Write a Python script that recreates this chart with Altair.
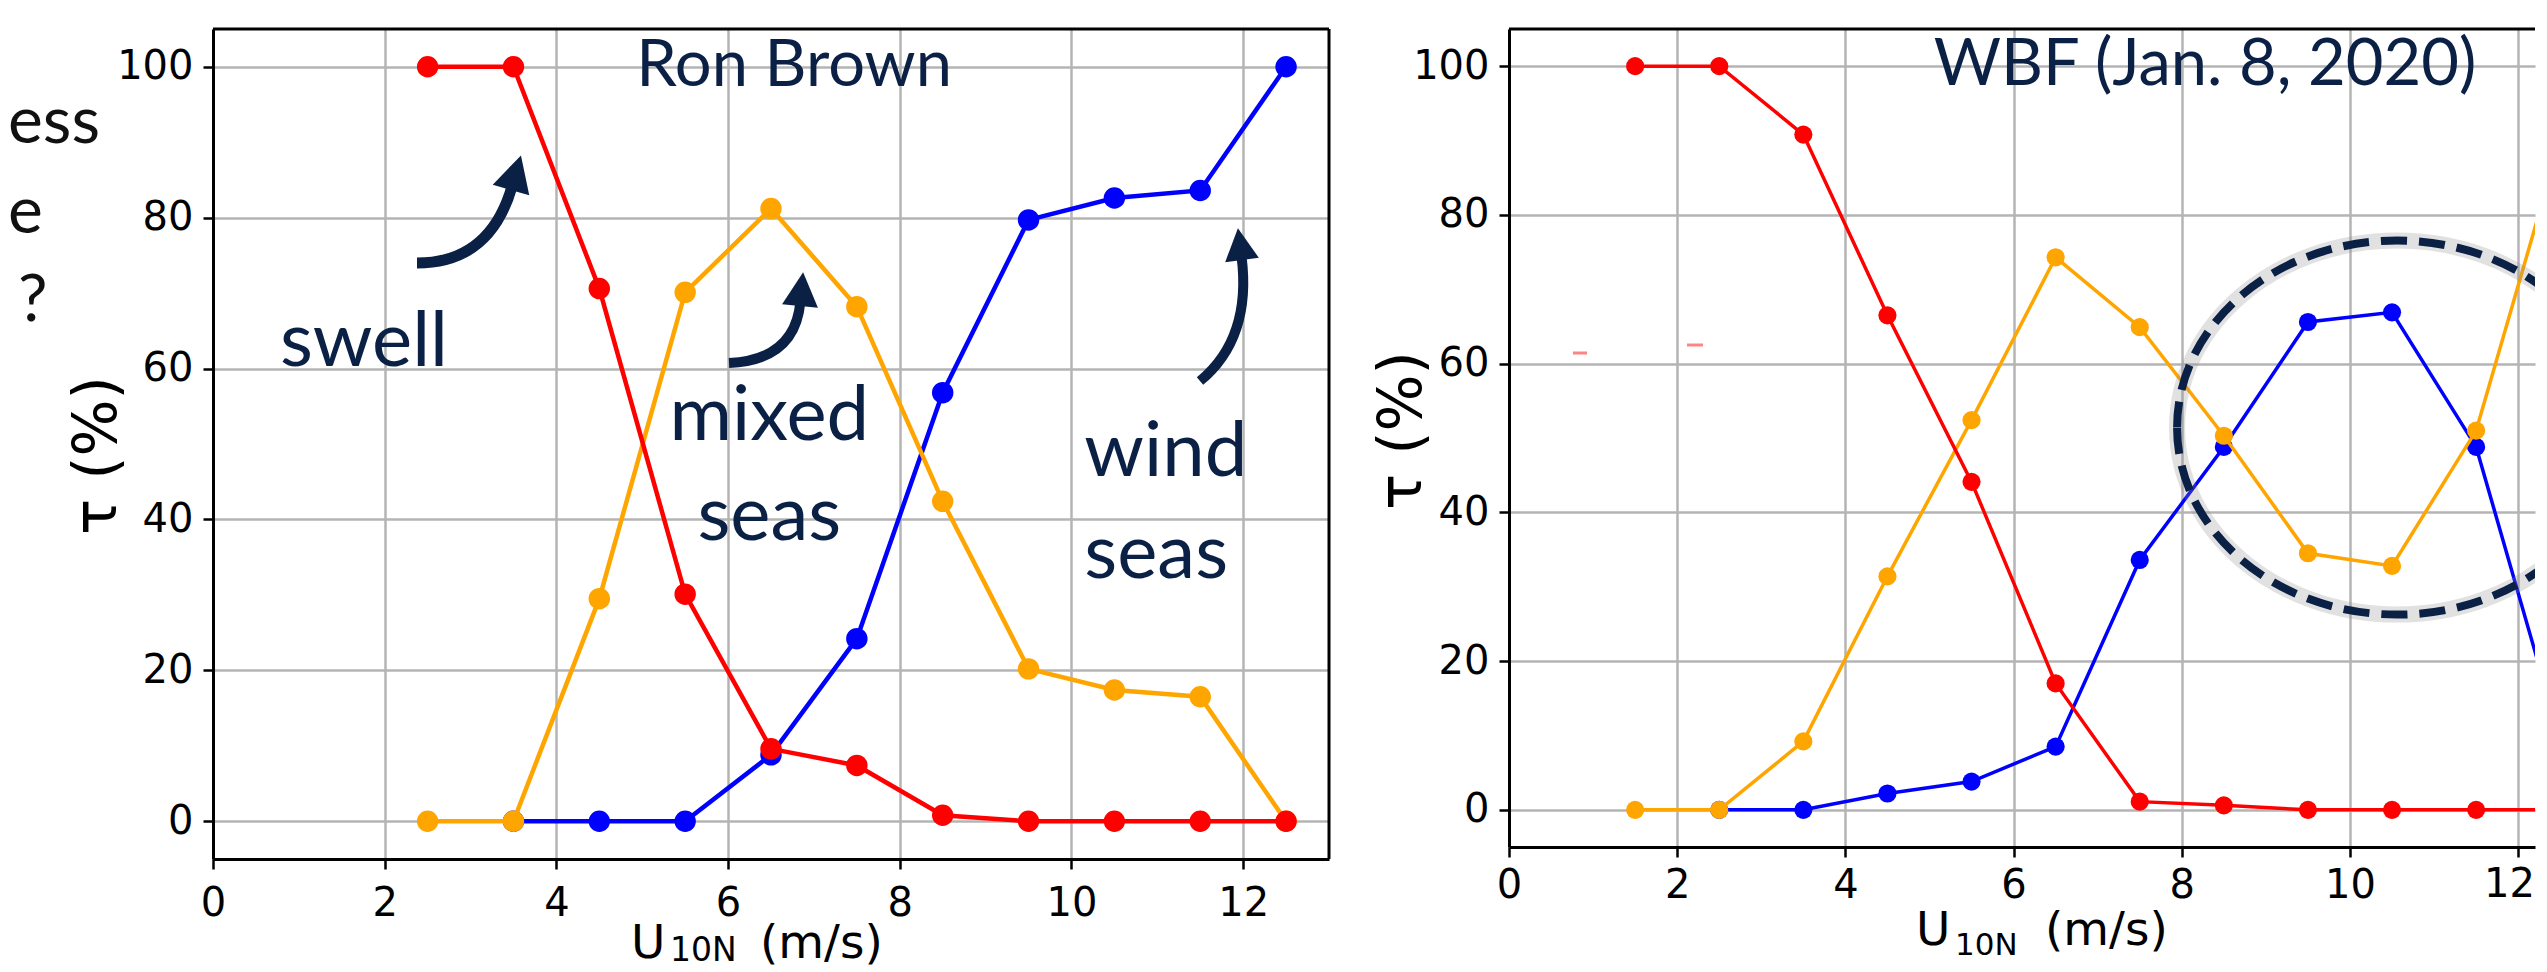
import math
import altair as alt
import pandas as pd

# ---------------- data ----------------
RB_U = [2.5, 3.5, 4.5, 5.5, 6.5, 7.5, 8.5, 9.5, 10.5, 11.5, 12.5]
RB_SWELL = [100, 100, 70.6, 30.1, 9.6, 7.4, 0.8, 0, 0, 0, 0]
RB_MIXED = [0, 0, 29.5, 70.1, 81.2, 68.2, 42.4, 20.2, 17.4, 16.5, 0]
RB_WIND = [None, 0, 0, 0, 8.8, 24.2, 56.8, 79.7, 82.6, 83.6, 100]

WBF_U = [1.5, 2.5, 3.5, 4.5, 5.5, 6.5, 7.5, 8.5, 9.5, 10.5, 11.5, 12.5]
WBF_SWELL = [100, 100, 90.8, 66.5, 44.1, 17.0, 1.1, 0.6, 0, 0, 0, 0]
WBF_MIXED = [0, 0, 9.2, 31.4, 52.4, 74.3, 64.9, 50.3, 34.5, 32.8, 51.0, 90.0]
WBF_WIND = [None, 0, 0, 2.2, 3.8, 8.5, 33.6, 48.8, 65.6, 66.9, 48.8, 9.5]

SERIES = ["wind", "mixed", "swell"]          # drawing order (last on top)
X_TICKS = [0, 2, 4, 6, 8, 10, 12]
Y_TICKS = [0, 20, 40, 60, 80, 100]
Y_TITLE = "τ (%)"

LEFT_TEXTS = ["Ron Brown", "swell", "mixed", "seas", "wind", "seas"]
RIGHT_TEXTS = ["WBF (Jan. 8, 2020)"]
FRAGMENTS = ["ess", "e", "?"]

# ---------------- styles / layout ----------------
NAVY = "#0b2045"
COLORS = {"swell": "#ff0000", "mixed": "#ffa500", "wind": "#0000ff"}
GRID = "#b4b4b4"
TICK_FONT = "DejaVu Sans"
ANNO_FONT = "Lato"

L_W, L_H, L_XMAX = 1116, 830, 13
R_W, R_H, R_XMAX = 1026, 818, 12.2

one = pd.DataFrame({"k": [0]})


def long_df(u, swell, mixed, wind):
    rows = []
    for name, vals in (("swell", swell), ("mixed", mixed), ("wind", wind)):
        for x, v in zip(u, vals):
            if v is not None:
                rows.append({"u": x, "tau": v, "s": name})
    return pd.DataFrame(rows)


def arrow(tail, ctrl, end, head_len, head_half, width):
    dx, dy = end[0] - ctrl[0], end[1] - ctrl[1]
    n = math.hypot(dx, dy)
    ux, uy = dx / n, dy / n
    px, py = -uy, ux
    tip = (end[0] + ux * head_len, end[1] + uy * head_len)
    b1 = (end[0] + px * head_half, end[1] + py * head_half)
    b2 = (end[0] - px * head_half, end[1] - py * head_half)
    bend = (end[0] + ux * 4, end[1] + uy * 4)
    R = 100.0
    cx, cy = tail

    def f(p):
        return f"{(p[0] - cx) / R:.4f} {(p[1] - cy) / R:.4f}"

    body = f"M {f(tail)} Q {f(ctrl)} {f(bend)}"
    head = f"M {f(tip)} L {f(b1)} L {f(b2)} Z"
    size = (2 * R) ** 2
    lb = alt.Chart(one).mark_point(shape=body, size=size, filled=False, stroke=NAVY, color=NAVY,
                                   strokeWidth=width, opacity=1, strokeCap="butt").encode(
        x=alt.value(cx), y=alt.value(cy))
    lh = alt.Chart(one).mark_point(shape=head, size=size, filled=True, fill=NAVY, color=NAVY,
                                   strokeWidth=0, opacity=1).encode(x=alt.value(cx), y=alt.value(cy))
    return [lb, lh]


def pix_text(txt, x, y, size, font=TICK_FONT, color="black", align="left", baseline="alphabetic"):
    return alt.Chart(one).mark_text(text=txt, font=font, fontSize=size, color=color, align=align,
                                    baseline=baseline).encode(x=alt.value(x), y=alt.value(y))


def panel(df, W, H, xmax, lw, ps, clip, xlab_pad, ytx, yty, hide12):
    xs = alt.Scale(domain=[0, xmax], nice=False, zero=False)
    ys = alt.Scale(domain=[-5, 105], nice=False, zero=False)
    common = dict(grid=True, gridColor=GRID, gridWidth=2.5, domainColor="black", domainWidth=3,
                  tickColor="black", tickWidth=2.5, tickSize=10, labelFont=TICK_FONT,
                  labelFontSize=40, labelColor="black", labelOverlap=False)
    xkw = dict(values=X_TICKS, title=None, labelPadding=xlab_pad, labelFlush=False, **common)
    if hide12:
        xkw["labelExpr"] = "datum.value == 12 ? '' : datum.label"
    xaxis = alt.Axis(**xkw)
    yaxis = alt.Axis(values=Y_TICKS, title=Y_TITLE, titleX=ytx, titleY=yty, titleAngle=270,
                     titleAlign="center", titleBaseline="alphabetic", titleFont=TICK_FONT,
                     titleFontSize=60, titleFontWeight="normal", titleColor="black",
                     labelPadding=10, **common)
    X = alt.X("u:Q", scale=xs, axis=xaxis)
    Y = alt.Y("tau:Q", scale=ys, axis=yaxis)
    layers = []
    for s in SERIES:
        sub = df[df["s"] == s]
        layers.append(alt.Chart(sub).mark_line(color=COLORS[s], strokeWidth=lw, clip=clip)
                      .encode(x=X, y=Y))
        layers.append(alt.Chart(sub).mark_circle(color=COLORS[s], size=ps, opacity=1, clip=clip)
                      .encode(x=X, y=Y))
    return layers, X, Y


# ---------------- left panel : Ron Brown ----------------
df_l = long_df(RB_U, RB_SWELL, RB_MIXED, RB_WIND)
layers_l, XL, YL = panel(df_l, L_W, L_H, L_XMAX, 4.5, 460, False, 14, -98, 426, False)

ann_l = pd.DataFrame({"t": LEFT_TEXTS,
                      "u": [4.93, 0.78, 6.48, 6.48, 10.15, 10.15],
                      "tau": [97.4, 60.3, 50.5, 37.3, 45.8, 32.2]})
layers_l.append(alt.Chart(ann_l.iloc[[0]]).mark_text(font=ANNO_FONT, fontSize=65, color=NAVY,
                align="left", baseline="alphabetic").encode(x=XL, y=YL, text="t:N"))
layers_l.append(alt.Chart(ann_l.iloc[[1, 4, 5]]).mark_text(font=ANNO_FONT, fontSize=76, color=NAVY,
                align="left", baseline="alphabetic").encode(x=XL, y=YL, text="t:N"))
layers_l.append(alt.Chart(ann_l.iloc[[2, 3]]).mark_text(font=ANNO_FONT, fontSize=76, color=NAVY,
                align="center", baseline="alphabetic").encode(x=XL, y=YL, text="t:N"))

# arrows (pixel positions relative to the plot area)
layers_l += arrow((204, 234), (277, 234), (298, 161), 36, 19, 11)
layers_l += arrow((516, 334), (582, 331), (587, 277), 34, 18, 10)
layers_l += arrow((987, 352), (1039, 309), (1029, 231), 32, 17, 10)

# frame (top + right), x-title, slide fragments, invisible extent
layers_l.append(alt.Chart(one).mark_rule(color="black", strokeWidth=3).encode(
    x=alt.value(0), x2=alt.value(L_W), y=alt.value(0)))
layers_l.append(alt.Chart(one).mark_rule(color="black", strokeWidth=3).encode(
    x=alt.value(L_W), y=alt.value(0), y2=alt.value(L_H)))
layers_l += [pix_text("U", 418, 929, 47), pix_text("10N", 457, 932, 33), pix_text("(m/s)", 547, 929, 47)]
layers_l += [pix_text(FRAGMENTS[0], -205, 114, 66, ANNO_FONT, "#111111"),
             pix_text(FRAGMENTS[1], -205, 204, 66, ANNO_FONT, "#111111"),
             pix_text(FRAGMENTS[2], -195, 292, 66, ANNO_FONT, "#111111")]
layers_l.append(alt.Chart(one).mark_rule(opacity=0, strokeWidth=1).encode(
    x=alt.value(-205), x2=alt.value(L_W + 10), y=alt.value(-13)))

left = alt.layer(*layers_l).properties(width=L_W, height=L_H)

# ---------------- right panel : WBF ----------------
df_r = long_df(WBF_U, WBF_SWELL, WBF_MIXED, WBF_WIND)
layers_r, XR, YR = panel(df_r, R_W, R_H, R_XMAX, 3.5, 330, True, 8, -89, 401, True)

ann_r = pd.DataFrame({"t": RIGHT_TEXTS, "u": [5.05], "tau": [97.5]})
layers_r.append(alt.Chart(ann_r).mark_text(font=ANNO_FONT, fontSize=65, color=NAVY, align="left",
                baseline="alphabetic").encode(x=XR, y=YR, text="t:N"))

# dashed ellipse highlighting the crossing
k, ry = 0.5523, 0.85
ell = (f"M -1 0 C -1 {-k*ry:.4f} {-k:.4f} {-ry} 0 {-ry} C {k:.4f} {-ry} 1 {-k*ry:.4f} 1 0 "
       f"C 1 {k*ry:.4f} {k:.4f} {ry} 0 {ry} C {-k:.4f} {ry} -1 {k*ry:.4f} -1 0 Z")
ell_df = pd.DataFrame({"u": [10.56], "tau": [51.4]})
layers_r.append(alt.Chart(ell_df).mark_point(shape=ell, size=440 ** 2, filled=False, stroke="#8a8a8a",
                strokeWidth=16, opacity=0.25, clip=True).encode(x=XR, y=YR))
layers_r.append(alt.Chart(ell_df).mark_point(shape=ell, size=440 ** 2, filled=False, stroke=NAVY,
                strokeWidth=8, strokeDash=[26, 12], opacity=1, clip=True).encode(x=XR, y=YR))

# tiny red marks present on the slide
layers_r.append(alt.Chart(one).mark_rule(color="#ff5050", strokeWidth=3, opacity=0.7).encode(
    x=alt.value(64), x2=alt.value(78), y=alt.value(324)))
layers_r.append(alt.Chart(one).mark_rule(color="#ff5050", strokeWidth=3, opacity=0.7).encode(
    x=alt.value(178), x2=alt.value(194), y=alt.value(316)))

layers_r.append(alt.Chart(one).mark_rule(color="black", strokeWidth=3).encode(
    x=alt.value(0), x2=alt.value(R_W), y=alt.value(0)))
layers_r += [pix_text("12", R_W, R_H + 18, 40, align="right", baseline="top")]
layers_r += [pix_text("U", 407, 916, 47), pix_text("10N", 446, 926, 31), pix_text("(m/s)", 536, 916, 47)]
layers_r.append(alt.Chart(one).mark_rule(opacity=0, strokeWidth=1).encode(
    x=alt.value(-170), x2=alt.value(0), y=alt.value(-21)))

right = alt.layer(*layers_r).properties(width=R_W, height=R_H)

chart = (alt.hconcat(left, right, spacing=0, bounds="full")
         .properties(padding=0, background="white")
         .configure_view(strokeWidth=0))

chart.save("out.html", embed_options={"renderer": "svg", "actions": False})
